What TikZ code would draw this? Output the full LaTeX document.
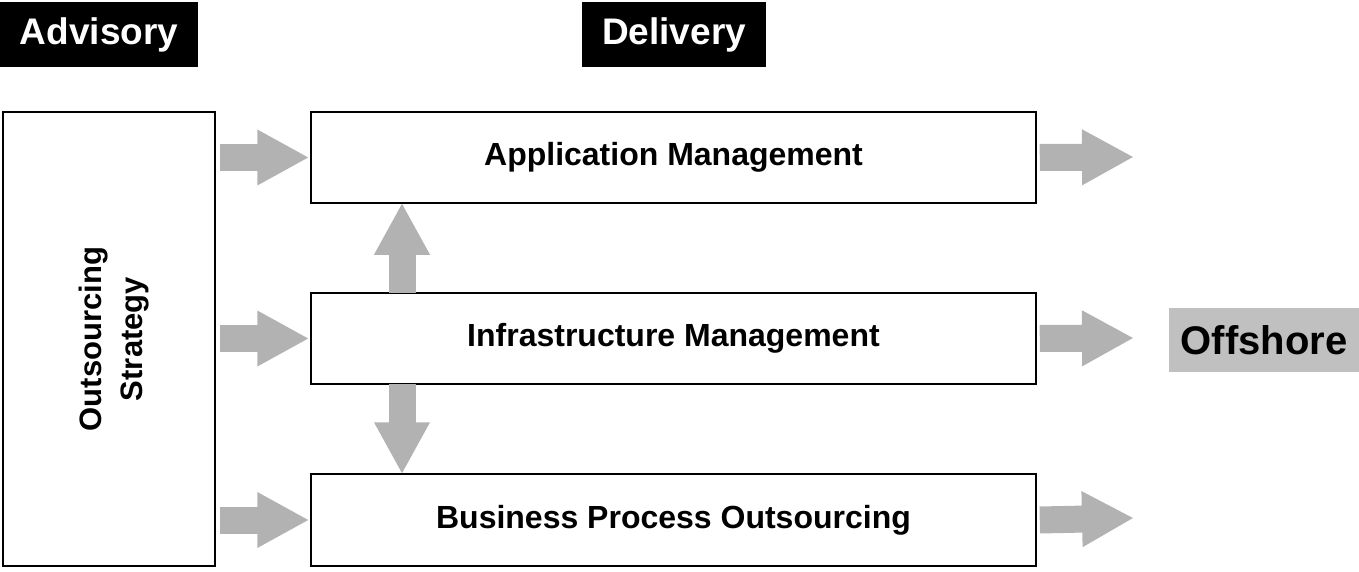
\documentclass[tikz,border=0pt]{standalone}
\usepackage{fontspec}
\setmainfont{Liberation Sans}
\usetikzlibrary{arrows.meta}
\definecolor{arrowgray}{HTML}{B2B2B2}
\definecolor{offgray}{HTML}{C0C0C0}
\begin{document}
\begin{tikzpicture}[x=1pt,y=-1pt,
  every node/.style={font=\bfseries},
  tagbox/.style={fill=black,text=white,inner sep=0pt,font=\fontsize{37}{40}\selectfont\bfseries},
  mainbox/.style={draw=black,line width=1.5pt,inner sep=0pt,font=\fontsize{32}{36}\selectfont\bfseries},
  bigarrow/.style={draw=arrowgray,line width=27pt,line cap=butt,-{Triangle[length=52pt,width=52pt]}}
]
\useasboundingbox (0,0) rectangle (1359,572);
% header tags
\node[tagbox,minimum width=198pt,minimum height=65pt] (adv) at (99,34.5) {Advisory};
\node[tagbox,minimum width=184pt,minimum height=65pt] (del) at (674,34.5) {Delivery};
% main boxes
\node[mainbox,minimum width=212pt,minimum height=454pt] (os) at (109,339) {};
\node[rotate=90,align=center,font=\fontsize{31}{41}\selectfont\bfseries] (ostext) at ([xshift=5pt]os.center) {Outsourcing\\Strategy};
\node[mainbox,minimum width=725pt,minimum height=91pt] (app) at (673.5,157.5) {Application Management};
\node[mainbox,minimum width=725pt,minimum height=91pt] (infra) at (673.5,338.5) {Infrastructure Management};
\node[mainbox,minimum width=725pt,minimum height=92pt] (bpo) at (673.5,520) {Business Process Outsourcing};
% offshore
\node[fill=offgray,inner sep=0pt,minimum width=190pt,minimum height=64pt,font=\fontsize{40}{44}\selectfont\bfseries] (off) at (1264,340) {Offshore};
% free ends of outgoing arrows
\coordinate (aoutend) at (1134,157);
\coordinate (ioutend) at (1134,338);
\coordinate (boutend) at (1134,518);
% incoming arrows
\draw[bigarrow] ([xshift=4pt]os.east |- app.west) -- ([xshift=-1pt]app.west);
\draw[bigarrow] ([xshift=4pt]os.east |- infra.west) -- ([xshift=-1pt]infra.west);
\draw[bigarrow] ([xshift=4pt]bpo.west -| os.east) -- ([xshift=-1pt]bpo.west);
% outgoing arrows
\draw[bigarrow] ([xshift=3pt]app.east) -- (aoutend);
\draw[bigarrow] ([xshift=3pt]infra.east) -- (ioutend);
\draw[bigarrow] ([xshift=3pt]bpo.east) -- (boutend);
% vertical arrows
\coordinate (vx) at (402,0);
\draw[bigarrow] ([yshift=-0.5pt]infra.north -| vx) -- ([yshift=1pt]app.south -| vx);
\draw[bigarrow] ([yshift=0.5pt]infra.south -| vx) -- ([yshift=-1pt]bpo.north -| vx);
\end{tikzpicture}
\end{document}
